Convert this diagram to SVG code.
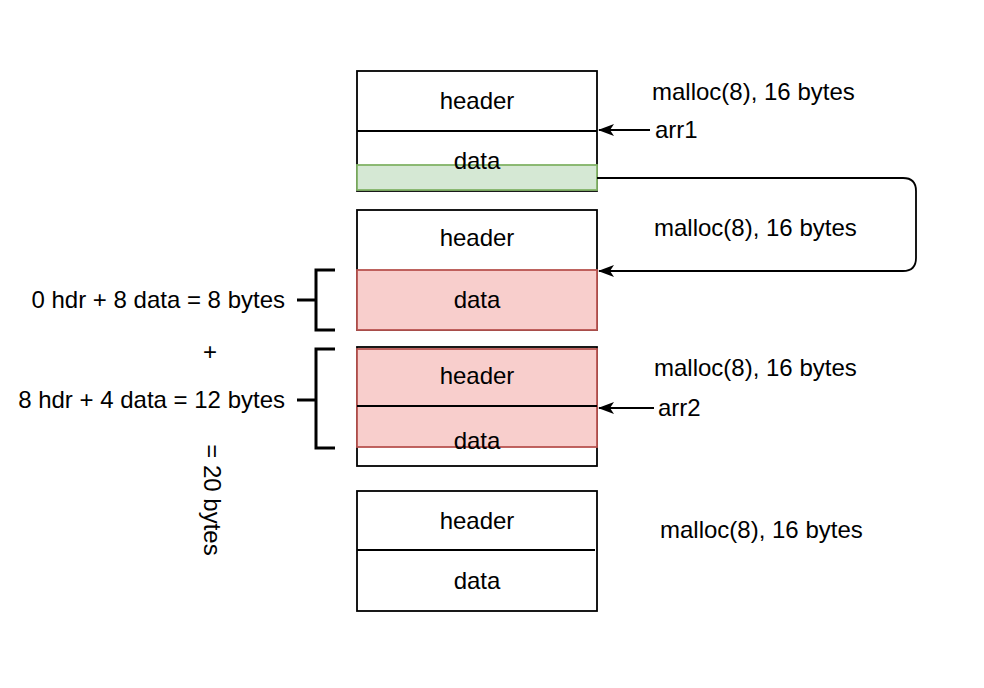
<svg xmlns="http://www.w3.org/2000/svg" width="984" height="688" viewBox="0 0 984 688">
<style>
  .box{fill:#ffffff;stroke:#000000;stroke-width:1.8}
  .div{stroke:#000000;stroke-width:1.8;fill:none}
  .green{fill:#d5e8d4;stroke:#82b366;stroke-width:1.8}
  .red{fill:#f8cecc;stroke:#b85450;stroke-width:1.8}
  .t{font-family:"Liberation Sans",Arial,sans-serif;font-size:24px;fill:#000000}
  .c{text-anchor:middle}
  .e{text-anchor:end}
  .conn{stroke:#000000;stroke-width:1.8;fill:none}
  .br{stroke:#000000;stroke-width:3;fill:none}
</style>
<defs>
  <marker id="arr" viewBox="0 0 16 12" refX="15" refY="6" markerWidth="16" markerHeight="12" markerUnits="userSpaceOnUse" orient="auto">
    <path d="M0,0 L16,6 L0,12 L4,6 Z" fill="#000000"/>
  </marker>
</defs>
<rect width="984" height="688" fill="#ffffff"/>
<g id="block1">
  <rect class="box" x="357" y="71" width="240" height="120"/>
  <line class="div" x1="357" y1="131" x2="597" y2="131"/>
  <rect class="green" x="357" y="165" width="240" height="25"/>
  <text class="t c" x="477" y="109">header</text>
  <text class="t c" x="477" y="169">data</text>
</g>
<g id="block2">
  <rect class="box" x="357" y="210" width="240" height="120"/>
  <rect class="red" x="357" y="270" width="240" height="60"/>
  <text class="t c" x="477" y="246">header</text>
  <text class="t c" x="477" y="308">data</text>
</g>
<g id="block3">
  <rect class="box" x="357" y="347" width="240" height="119"/>
  <rect class="red" x="357" y="349" width="240" height="98"/>
  <line class="div" x1="357" y1="406" x2="597" y2="406"/>
  <text class="t c" x="477" y="384">header</text>
  <text class="t c" x="477" y="449">data</text>
</g>
<g id="block4">
  <rect class="box" x="357" y="491" width="240" height="120"/>
  <line class="div" x1="357" y1="550" x2="595" y2="550"/>
  <text class="t c" x="477" y="529">header</text>
  <text class="t c" x="477" y="589">data</text>
</g>
<g id="labels">
  <text class="t" x="652" y="100">malloc(8), 16 bytes</text>
  <text class="t" x="655" y="138">arr1</text>
  <text class="t" x="654" y="236">malloc(8), 16 bytes</text>
  <text class="t" x="654" y="376">malloc(8), 16 bytes</text>
  <text class="t" x="658" y="416">arr2</text>
  <text class="t" x="660" y="538">malloc(8), 16 bytes</text>
  <text class="t e" x="285" y="308">0 hdr + 8 data = 8 bytes</text>
  <text class="t c" x="210" y="360">+</text>
  <text class="t e" x="285" y="408">8 hdr + 4 data = 12 bytes</text>
  <text class="t c" transform="translate(204,500) rotate(90)" x="0" y="0">= 20 bytes</text>
</g>
<g id="brackets">
  <path class="br" d="M335,270 H316 V330 H335 M297,300 H316"/>
  <path class="br" d="M335,349 H316 V448 H335 M297,400 H316"/>
</g>
<g id="connectors">
  <path class="conn" d="M650,130 H599" marker-end="url(#arr)"/>
  <path class="conn" d="M597,178 H903 Q916,178 916,191 V258 Q916,271 903,271 H599" marker-end="url(#arr)"/>
  <path class="conn" d="M654,408 H599" marker-end="url(#arr)"/>
</g>
</svg>
